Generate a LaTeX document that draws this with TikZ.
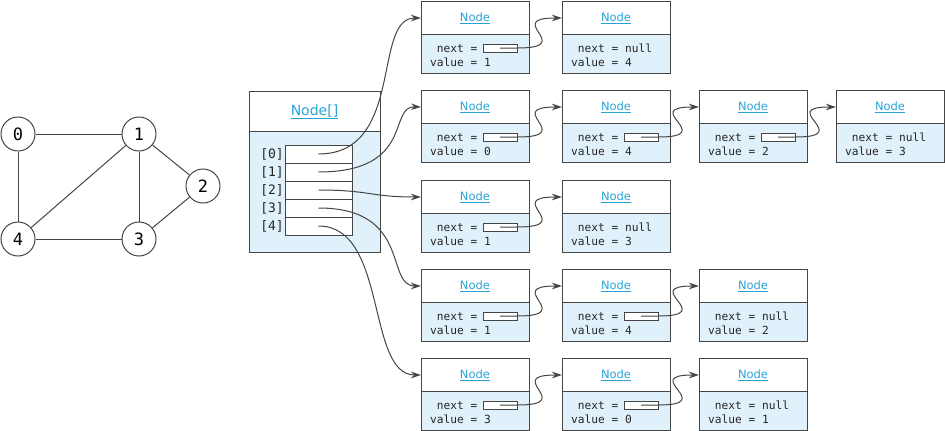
\documentclass[tikz,border=0pt]{standalone}
\usepackage{fontspec}
\setmainfont{DejaVu Sans}
\setmonofont{DejaVu Sans Mono}
\usetikzlibrary{arrows.meta,calc}
\definecolor{lb}{HTML}{E1F1FB}
\definecolor{cy}{HTML}{29A3D6}
\definecolor{bd}{HTML}{454545}
\tikzset{
  bline/.style={draw=bd,line width=1pt},
  boxn/.style={bline,minimum width=108pt,minimum height=72pt,inner sep=0pt},
  hdr/.style={text=cy,font=\fontsize{11.5}{13}\selectfont,inner sep=0pt},
  txt/.style={font=\ttfamily\fontsize{11.2}{13}\selectfont,inner sep=0pt,text=black!85},
  ptrbox/.style={bline,fill=white,minimum width=34pt,minimum height=8pt,inner sep=0pt},
  link/.style={draw=bd,line width=1pt,-{Stealth[length=10pt,width=6.5pt]}},
  cell/.style={bline,fill=white,minimum width=67pt,minimum height=18pt,inner sep=0pt},
  vert/.style={bline,circle,minimum size=34pt,inner sep=0pt,font=\ttfamily\fontsize{17}{19}\selectfont},
  gedge/.style={draw=bd,line width=1pt}
}
\newcommand\listbox[3]{%
  \fill[lb] (#2,#3+33) rectangle (#2+108,#3+72);
  \node[boxn] (#1) at (#2+54,#3+36) {};
  \draw[bline] (#2,#3+33) -- (#2+108,#3+33);
  \node[hdr] (#1-h) at (#2+54,#3+17) {\underline{Node}};
  \coordinate (#1-in) at (#2,#3+17);
}
\newcommand\ptrnode[4]{%
  \listbox{#1}{#2}{#3}
  \node[txt,anchor=base west] (#1-n) at (#2+9,#3+51) {\hphantom{v}next =};
  \node[txt,anchor=base west] (#1-v) at (#2+9,#3+65) {value = #4};
  \node[ptrbox] (#1-p) at (#2+79,#3+47) {};
}
\newcommand\nullnode[4]{%
  \listbox{#1}{#2}{#3}
  \node[txt,anchor=base west] (#1-n) at (#2+9,#3+51) {\hphantom{v}next = null};
  \node[txt,anchor=base west] (#1-v) at (#2+9,#3+65) {value = #4};
}
\newcommand\nextlink[2]{%
  \draw[link] (#1-p.center) -- (#1-p.east) .. controls +(60,0) and +(-60,0) .. (#2-in);
}
\begin{document}
\begin{tikzpicture}[x=1pt,y=-1pt]
\useasboundingbox (0,0) rectangle (945,431);
% graph
\node[vert] (g0) at (18,134) {0};
\node[vert] (g1) at (139,134) {1};
\node[vert] (g2) at (203,186) {2};
\node[vert] (g3) at (139,239) {3};
\node[vert] (g4) at (18,239) {4};
\draw[gedge] (g0) -- (g1);
\draw[gedge] (g0) -- (g4);
\draw[gedge] (g1) -- (g4);
\draw[gedge] (g1) -- (g3);
\draw[gedge] (g1) -- (g2);
\draw[gedge] (g2) -- (g3);
\draw[gedge] (g4) -- (g3);
% array
\fill[lb] (249,131) rectangle (380,252);
\node[bline,minimum width=131pt,minimum height=161pt,inner sep=0pt] (arr) at (314.5,171.5) {};
\draw[bline] (249,131) -- (380,131);
\node[text=cy,font=\fontsize{14}{16}\selectfont,inner sep=0pt] (arrh) at (314.5,112) {\underline{Node[]}};
\foreach \i in {0,...,4}{
  \node[cell] (c\i) at (318.5,154+18*\i) {};
  \node[txt,anchor=east,font=\ttfamily\fontsize{13}{15}\selectfont] (l\i) at (284,154+18*\i) {[\i]};
}
% list nodes
\ptrnode{n00}{421}{1}{1}
\nullnode{n01}{562}{1}{4}
\ptrnode{n10}{421}{90}{0}
\ptrnode{n11}{562}{90}{4}
\ptrnode{n12}{699}{90}{2}
\nullnode{n13}{836}{90}{3}
\ptrnode{n20}{421}{180}{1}
\nullnode{n21}{562}{180}{3}
\ptrnode{n30}{421}{269}{1}
\ptrnode{n31}{562}{269}{4}
\nullnode{n32}{699}{269}{2}
\ptrnode{n40}{421}{358}{3}
\ptrnode{n41}{562}{358}{0}
\nullnode{n42}{699}{358}{1}
\nextlink{n00}{n01}
\nextlink{n10}{n11}
\nextlink{n11}{n12}
\nextlink{n12}{n13}
\nextlink{n20}{n21}
\nextlink{n30}{n31}
\nextlink{n31}{n32}
\nextlink{n40}{n41}
\nextlink{n41}{n42}
% array links
\draw[link] (c0.center) .. controls (405,154) and (372,18) .. (n00-in);
\draw[link] (c1.center) .. controls (415,172) and (388,106) .. (n10-in);
\draw[link] (c2.center) .. controls (370,190) and (370,197) .. (n20-in);
\draw[link] (c3.center) .. controls (412,208) and (385,286) .. (n30-in);
\draw[link] (c4.center) .. controls (388,226) and (366,375) .. (n40-in);
\end{tikzpicture}
\end{document}
